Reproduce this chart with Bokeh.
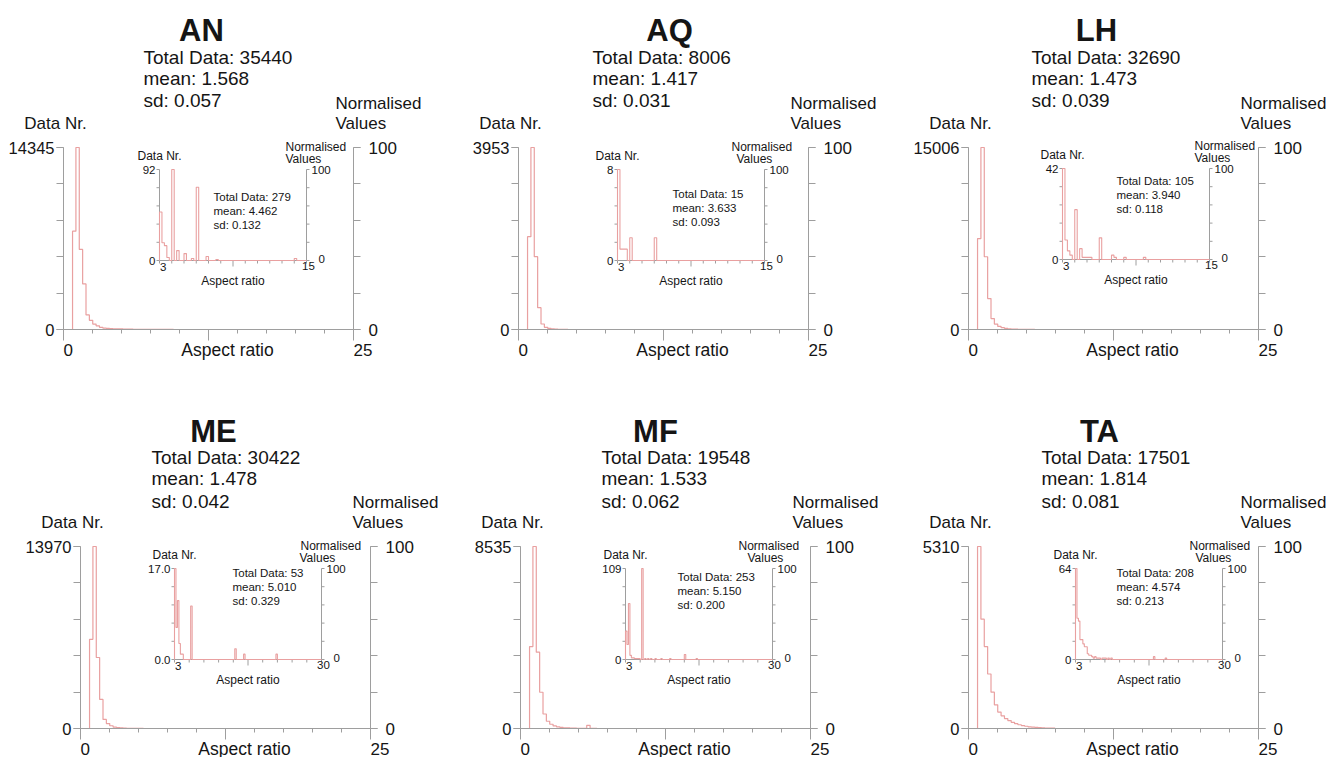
from bokeh.plotting import figure
from bokeh.models import Range1d, LinearAxis, FixedTicker
from bokeh.layouts import row, column
from bokeh.core.properties import value
from bokeh.embed import file_html
from bokeh.resources import INLINE

# ---------------- data ----------------
names = ["AN", "AQ", "LH", "ME", "MF", "TA"]
total_data = [35440, 8006, 32690, 30422, 19548, 17501]
mean_vals = ["1.568", "1.417", "1.473", "1.478", "1.533", "1.814"]
sd_vals = ["0.057", "0.031", "0.039", "0.042", "0.062", "0.081"]
main_ymax = [14345, 3953, 15006, 13970, 8535, 5310]
main_xmax = 25

# main histograms: consecutive bins starting at main_bin_start
main_bin_start = 0.78
main_bin_width = 0.29
AN_main = [7750, 14345, 6310, 3590, 1150, 720, 430, 290, 170, 115, 86, 72, 57, 43, 43,
           29, 29, 29, 14, 14, 14, 14, 10, 10, 8, 8, 6, 6, 5, 5]
AQ_main = [2016, 3953, 1581, 474, 119, 47, 24, 16, 8, 4, 2, 2]
LH_main = [7500, 15006, 6000, 2550, 900, 450, 250, 150, 90, 60, 40, 30, 20, 15, 10, 8, 6]
ME_main = [6845, 13970, 5448, 2235, 698, 377, 210, 112, 70, 42, 28, 14, 14, 10, 8, 6]
MF_main = [3840, 8535, 3580, 1700, 680, 340, 200, 120, 80, 50, 35, 25, 20, 15, 12, 10,
           8, 150, 6, 5]
TA_main = [5310, 3190, 2390, 1590, 1060, 690, 480, 370, 290, 230, 180, 140, 110, 85, 65,
           50, 40, 30, 25, 20, 15, 12, 10]
main_counts = [AN_main, AQ_main, LH_main, ME_main, MF_main, TA_main]

# inset histograms (aspect ratio >= 3)
inset_total = [279, 15, 105, 53, 253, 208]
inset_mean = ["4.462", "3.633", "3.940", "5.010", "5.150", "4.574"]
inset_sd = ["0.132", "0.093", "0.118", "0.329", "0.200", "0.213"]
inset_ymax = [92, 8, 42, 17, 109, 64]
inset_ylabels = [("0", "92"), ("0", "8"), ("0", "42"), ("0.0", "17.0"), ("0", "109"), ("0", "64")]
inset_xmin = 3
inset_xmax = [15, 15, 15, 30, 30, 30]
inset_bin_width = [0.2, 0.2, 0.2, 0.27, 0.27, 0.27]

AN_in_x = [3.0, 3.2, 3.4, 3.6, 4.0, 4.4, 5.0, 5.6, 6.0, 6.8, 7.6, 14.0]
AN_in_n = [49, 18, 15, 3, 92, 10, 7, 2, 74, 4, 1, 2]
AQ_in_x = [3.0, 3.2, 3.4, 3.6, 4.0, 6.0]
AQ_in_n = [8, 1, 1, 1, 2, 2]
LH_in_x = [3.0, 3.2, 3.4, 3.6, 4.0, 4.4, 4.6, 4.8, 5.0, 5.2, 6.0, 7.0, 7.2, 8.0, 9.6]
LH_in_n = [42, 9, 4, 2, 23, 5, 1, 1, 1, 1, 10, 2, 1, 1, 1]
ME_in_x = [3.0, 3.27, 3.54, 3.81, 4.08, 4.35, 5.97, 14.0, 15.8, 21.7]
ME_in_n = [17, 6, 11, 3, 1, 1, 10, 2, 1, 1]
MF_in_x = [3.0, 3.27, 3.54, 3.81, 4.08, 4.35, 4.62, 4.89, 5.16, 5.43, 5.97, 6.5, 7.0,
           7.6, 8.4, 9.5, 11.0, 13.8, 16.0]
MF_in_n = [34, 18, 67, 5, 2, 2, 1, 1, 1, 1, 109, 1, 1, 1, 1, 1, 1, 6, 1]
TA_in_x = [3.0, 3.27, 3.54, 3.81, 4.08, 4.35, 4.62, 4.89, 5.16, 5.43, 5.70, 5.97, 6.24,
           6.51, 6.78, 7.05, 7.32, 7.86, 8.13, 8.40, 8.94, 9.48, 17.31, 19.47]
TA_in_n = [64, 29, 27, 14, 14, 11, 9, 9, 4, 3, 3, 2, 1, 2, 1, 1, 1, 1, 1, 1, 1, 1, 2, 1]
inset_x = [AN_in_x, AQ_in_x, LH_in_x, ME_in_x, MF_in_x, TA_in_x]
inset_n = [AN_in_n, AQ_in_n, LH_in_n, ME_in_n, MF_in_n, TA_in_n]

# ---------------- layout / style ----------------
FONT = "Liberation Sans"
TXT = "#151515"
AXC = "#9e9e9e"
HIST = "#e9a0a0"
FW, FH = 290, 182          # main plot box (px)
IW, IH = 147, 91           # inset box (px)

panel_w = [445, 448, 443, 445, 448, 443]
panel_h = [401, 401, 401, 356, 356, 356]
box_x0 = [63, 73, 75, 80, 75, 75]
box_y0 = [147, 147, 147, 145, 145, 145]
title_dx = [138, 151, 128, 133, 135, 131]
title_dy = [-117, -117, -117, -115, -115, -115]
stats_dx = [80, 74, 63, 71, 81, 73]
stats_dy = [(-90, -69, -47)] * 3 + [(-89, -68, -45)] * 3
inset_pos = [(96, 22), (99, 22), (94, 21), (94, 22), (105, 22), (107, 22)]
inset_stats = [(54, 27), (55, 24), (54, 12), (58, 4), (52, 8), (41, 4)]
inset_norm_dx = [(-21, -21), (-33, -28), (-15, -15), (-21, -22), (-34, -25), (-33, -27)]
inset_nticks = [12, 12, 12, 10, 10, 10]


def make_panel(k):
    PW, PH = panel_w[k], panel_h[k]
    x0, y0 = box_x0[k], box_y0[k]
    ymax = main_ymax[k]

    def X(dx):   # px offset from box left -> main x data
        return dx * main_xmax / FW

    def Y(dy):   # px offset from box top -> main y data
        return (FH - dy) / FH * ymax

    p = figure(frame_width=PW, frame_height=PH,
               x_range=Range1d(X(-x0), X(PW - x0)), y_range=Range1d(Y(PH - y0), Y(-y0)),
               x_axis_location=None, y_axis_location=None,
               output_backend="svg", toolbar_location=None, min_border=0)
    p.outline_line_color = None
    p.title.visible = False
    for g in p.grid:
        g.visible = False

    def T(dx, dy, text, size, align="left", bold=False, baseline="middle"):
        p.text([X(dx)], [Y(dy)], text=[text], text_font=value(FONT), text_font_size=size,
               text_align=align, text_baseline=baseline, text_color=TXT,
               text_font_style="bold" if bold else "normal")

    # ---- main axes (drawn at fixed locations inside the frame) ----
    yax = LinearAxis(fixed_location=0, bounds=(0, ymax),
                     ticker=FixedTicker(ticks=[0, ymax],
                                        minor_ticks=[ymax * i / 5 for i in range(6)]))
    yax.major_label_overrides = {0: "0", ymax: str(ymax)}
    p.extra_y_ranges = {"norm": Range1d(-(PH - y0 - FH) * 100 / FH, 100 + y0 * 100 / FH)}
    rax = LinearAxis(y_range_name="norm", fixed_location=main_xmax, bounds=(0, 100),
                     ticker=FixedTicker(ticks=[0, 100], minor_ticks=[0, 20, 40, 60, 80, 100]))
    xax = LinearAxis(fixed_location=0, bounds=(0, main_xmax),
                     ticker=FixedTicker(ticks=[0, main_xmax / 2, main_xmax],
                                        minor_ticks=[main_xmax * i / 10 for i in range(11)]))
    xax.major_label_overrides = {0: "", main_xmax / 2: "", main_xmax: ""}
    for ax in (yax, rax, xax):
        ax.axis_line_color = AXC
        ax.major_tick_line_color = AXC
        ax.minor_tick_line_color = AXC
        ax.major_tick_in = 0
        ax.minor_tick_in = 0
        ax.major_label_text_font = FONT
        ax.major_label_text_color = TXT
    for ax in (yax, rax):
        ax.major_tick_out = 7
        ax.minor_tick_out = 7
        ax.major_label_text_font_size = "16.5px"
    yax.major_label_standoff = 2
    rax.major_label_standoff = 8
    rax.major_label_text_font_size = "17px"
    xax.major_tick_out = 11
    xax.minor_tick_out = 4
    p.add_layout(yax, "left")
    p.add_layout(rax, "right")
    p.add_layout(xax, "below")

    # ---- main histogram (step outline) ----
    cnts = main_counts[k]
    xs = [0] + [main_bin_start + i * main_bin_width for i in range(len(cnts) + 1)] + [main_xmax]
    ys = [0] + list(cnts) + [0, 0]
    p.step(xs, ys, mode="after", line_color=HIST, line_width=1.2)

    # ---- main texts ----
    T(title_dx[k], title_dy[k], names[k], "31px", "center", bold=True)
    sx = stats_dx[k]
    d1, d2, d3 = stats_dy[k]
    T(sx, d1, f"Total Data: {total_data[k]}", "19px")
    T(sx, d2, f"mean: {mean_vals[k]}", "19px")
    T(sx, d3, f"sd: {sd_vals[k]}", "19px")
    T(-8, -24, "Data Nr.", "17px", "center")
    T(FW - 18, -44, "Normalised", "17px")
    T(FW - 18, -24, "Values", "17px")
    T(0, FH + 20, "0", "17px")
    T(FW, FH + 20, str(main_xmax), "17px")
    T(164, FH + 20, "Aspect ratio", "17.5px", "center")

    # ---- inset via extra ranges ----
    ix0, iy0 = inset_pos[k]
    ixa, iya = x0 + ix0, y0 + iy0
    x0i, x1i = inset_xmin, inset_xmax[k]
    yi = inset_ymax[k]
    u = (x1i - x0i) / IW
    v = yi / IH
    p.extra_x_ranges = {"ix": Range1d(x0i - ixa * u, x0i + (PW - ixa) * u)}
    p.extra_y_ranges["iy"] = Range1d(-(PH - iya - IH) * v, yi + iya * v)
    kw = dict(x_range_name="ix", y_range_name="iy")

    # inset axes
    p.segment([x0i, x1i, x0i], [0, 0, 0], [x0i, x1i, x1i], [yi, yi, 0],
              line_color=AXC, line_width=1, **kw)
    ty = [yi * i / 5 for i in range(6)]
    p.segment([x0i - 3 * u] * 6, ty, [x0i] * 6, ty, line_color=AXC, **kw)
    p.segment([x1i] * 6, ty, [x1i + 3 * u] * 6, ty, line_color=AXC, **kw)
    nt = inset_nticks[k]
    tx = [x0i + (x1i - x0i) * i / nt for i in range(nt + 1)]
    tl = [-(6 if i == nt // 2 else 3) * v for i in range(nt + 1)]
    p.segment(tx, [0] * len(tx), tx, tl, line_color=AXC, **kw)

    # inset histogram (step outline)
    w = inset_bin_width[k]
    nb = int(round((x1i - x0i) / w))
    dense = [0] * nb
    for xv, nv in zip(inset_x[k], inset_n[k]):
        dense[int(round((xv - x0i) / w))] += nv
    exs = [x0i] + [x0i + i * w for i in range(nb + 1)]
    eys = [0] + dense + [0]
    p.step(exs, eys, mode="after", line_color=HIST, line_width=1.1, **kw)

    # inset texts
    def it(xv, yv, text, size, align="left", baseline="middle"):
        p.text([xv], [yv], text=[text], text_font=value(FONT), text_font_size=size,
               text_align=align, text_baseline=baseline, text_color=TXT, **kw)

    lo, hi = inset_ylabels[k]
    it(x0i, yi + 14 * v, "Data Nr.", "12px", "center")
    it(x0i - 4 * u, yi, hi, "11.5px", "right")
    it(x0i - 4 * u, 0, lo, "11.5px", "right")
    it(x0i + 0.5 * u, -2 * v, "3", "11.5px", "left", "top")
    it(x1i + 2 * u, -1 * v, str(x1i), "11.5px", "center", "top")
    it((x0i + x1i) / 2, -20 * v, "Aspect ratio", "12px", "center")
    nd1, nd2 = inset_norm_dx[k]
    it(x1i + nd1 * u, yi + 23 * v, "Normalised", "12px")
    it(x1i + nd2 * u, yi + 11 * v, "Values", "12px")
    it(x1i + 5 * u, yi, "100", "11.5px")
    it(x1i + 12 * u, 2 * v, "0", "11.5px")
    sdx, sdy = inset_stats[k]
    sxv = x0i + sdx * u
    it(sxv, yi - sdy * v, f"Total Data: {inset_total[k]}", "11.5px")
    it(sxv, yi - (sdy + 14) * v, f"mean: {inset_mean[k]}", "11.5px")
    it(sxv, yi - (sdy + 28) * v, f"sd: {inset_sd[k]}", "11.5px")
    return p


panels = [make_panel(k) for k in range(6)]
layout = column(row(*panels[:3]), row(*panels[3:]))
open("out.html", "w").write(file_html(layout, INLINE))
